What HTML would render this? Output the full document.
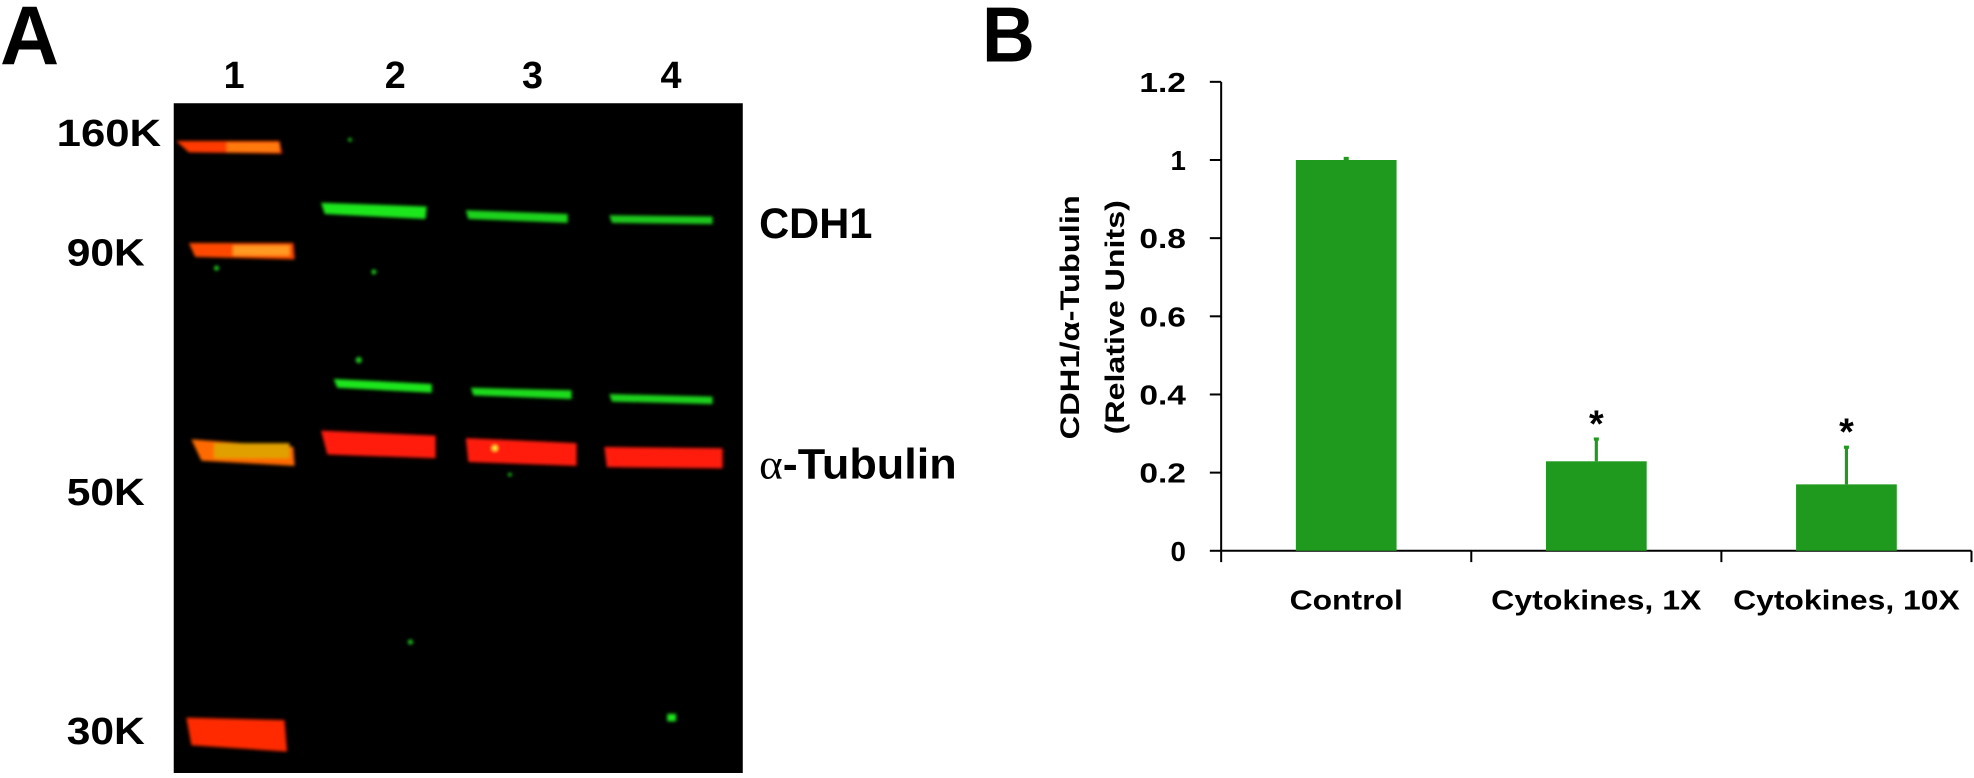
<!DOCTYPE html>
<html><head><meta charset="utf-8"><style>
html,body{margin:0;padding:0;background:#fff;}
body{width:1974px;height:773px;position:relative;overflow:hidden;font-family:"Liberation Sans",sans-serif;}
</style></head><body>
<svg width="1974" height="773" viewBox="0 0 1568 614" xmlns="http://www.w3.org/2000/svg">
<defs>
<filter id="blur" x="-20%" y="-50%" width="140%" height="200%"><feGaussianBlur stdDeviation="1.2"/></filter>
</defs>
<g font-family="Liberation Sans, sans-serif" font-weight="bold">
<text x="0" y="51" font-size="66" textLength="47" lengthAdjust="spacingAndGlyphs">A</text>
<g font-size="30" text-anchor="middle">
<text x="186" y="70">1</text><text x="314" y="70">2</text><text x="423" y="70">3</text><text x="533" y="70">4</text>
</g>
<g font-size="30">
<text x="45" y="116" textLength="83" lengthAdjust="spacingAndGlyphs">160K</text>
<text x="53" y="211" textLength="62" lengthAdjust="spacingAndGlyphs">90K</text>
<text x="53" y="401" textLength="62" lengthAdjust="spacingAndGlyphs">50K</text>
<text x="53" y="591" textLength="62" lengthAdjust="spacingAndGlyphs">30K</text>
</g>
<rect x="138" y="82" width="452" height="532" fill="#000"/>
<g filter="url(#blur)">
<path d="M140 112 L222 112 L224 122 L150 121 Z" fill="#ff3a00"/>
<rect x="180" y="113" width="42" height="8" fill="#ff7a10"/>
<path d="M150 193 L233 193 L234 206 L155 204 Z" fill="#ff4a00"/>
<rect x="185" y="195" width="45" height="8" fill="#ff9a20"/>
<path d="M152 349 L233 355 L234 370 L160 366 Z" fill="#ff6a00"/>
<rect x="170" y="352" width="60" height="12" fill="#e0a000"/>
<path d="M148 570 L226 572 L228 597 L152 592 Z" fill="#ff2a00"/>
<path d="M255 161 L339 164 L338 174 L258 170 Z" fill="#1ee61e"/>
<path d="M370 167 L451 170 L451 177 L372 174 Z" fill="#1ed21e"/>
<path d="M484 171 L566 172 L566 178 L486 177 Z" fill="#1ec81e"/>
<path d="M265 301 L343 305 L343 312 L268 308 Z" fill="#1ee61e"/>
<path d="M374 308 L454 310 L454 317 L376 314 Z" fill="#1edc1e"/>
<path d="M484 313 L566 315 L566 321 L486 319 Z" fill="#1ed21e"/>
<path d="M255 342 L346 346 L346 364 L260 361 Z" fill="#ff1a10"/>
<path d="M370 348 L458 352 L458 370 L372 367 Z" fill="#ff1a10"/>
<path d="M480 355 L574 356 L574 372 L482 371 Z" fill="#ff1a10"/>
<rect x="530" y="567" width="7" height="6" fill="#1ee61e"/>
<circle cx="278" cy="111" r="1.5" fill="#1ec81e"/><circle cx="285" cy="286" r="2.5" fill="#1ec81e"/>
<circle cx="172" cy="213" r="2" fill="#1ec81e"/><circle cx="297" cy="216" r="2" fill="#1ec81e"/>
<circle cx="326" cy="510" r="2" fill="#1ec81e"/><circle cx="405" cy="377" r="1.5" fill="#1ec81e"/>
<circle cx="393" cy="356" r="2" fill="#ffff40"/>
</g>
<text x="603" y="189" font-size="34" textLength="90" lengthAdjust="spacingAndGlyphs">CDH1</text>
<text x="603" y="380" font-size="34" textLength="157" lengthAdjust="spacingAndGlyphs"><tspan font-weight="normal" font-family="Liberation Serif, serif">α</tspan>-Tubulin</text>
</g>
<text x="780" y="49" font-size="62" font-weight="bold" textLength="42" lengthAdjust="spacingAndGlyphs">B</text>
<g id="chart"></g>
</svg>
<script>
const categories = ["Control","Cytokines, 1X","Cytokines, 10X"];
const values = [1.0, 0.229, 0.17];
const errors = [0.004, 0.057, 0.095];
const significant = [false, true, true];
const yTicks = [0,0.2,0.4,0.6,0.8,1,1.2];
const yTickLabels = ["0","0.2","0.4","0.6","0.8","1","1.2"];
const catLabelWidths = [90,167,180];

const NS="http://www.w3.org/2000/svg";
const g=document.getElementById('chart');
const x0=970,x1=1566,yTop=65,yBot=437.5,yMax=1.2;
const yS=v=>yBot-(v/yMax)*(yBot-yTop);
const band=(x1-x0)/categories.length;
const xC=i=>x0+band*(i+0.5);
function mk(tag,attrs,parent){const e=document.createElementNS(NS,tag);for(const k in attrs)e.setAttribute(k,attrs[k]);(parent||g).appendChild(e);return e;}
const yAxis=mk('line',{x1:x0,y1:yTop,x2:x0,y2:yBot,stroke:'#000','stroke-width':1.6});


const xAxis=mk('line',{x1:x0,y1:yBot,x2:x1,y2:yBot,stroke:'#000','stroke-width':1.6});


yTicks.forEach((t,i)=>{
  const tk=mk('line',{x1:x0-9,y1:yS(t),x2:x0,y2:yS(t),stroke:'#000','stroke-width':1.6});
  
  
  const tl=mk('text',{x:x0-28,y:yS(t)+8,'text-anchor':'end','font-size':22,'font-weight':'bold','font-family':'Liberation Sans, sans-serif'});
  tl.textContent=yTickLabels[i];
  if(yTickLabels[i].length>1){tl.setAttribute('textLength',37);tl.setAttribute('lengthAdjust','spacingAndGlyphs');}
  
  
});
for(let i=0;i<=categories.length;i++){
  const xt=x0+band*i;
  const tk=mk('line',{x1:xt,y1:yBot,x2:xt,y2:yBot+9,stroke:'#000','stroke-width':1.6});
  
  
}
const bw=80;
categories.forEach((c,i)=>{
  const cx=xC(i);
  const b=mk('rect',{x:cx-bw/2,y:yS(values[i]),width:bw,height:yBot-yS(values[i]),fill:'#1f9a1f'});
  
  
  const e=mk('line',{x1:cx,y1:yS(values[i]),x2:cx,y2:yS(values[i]+errors[i]),stroke:'#1f9a1f','stroke-width':2.5});
  
  
  const ec=mk('line',{x1:cx-2,y1:yS(values[i]+errors[i]),x2:cx+2,y2:yS(values[i]+errors[i]),stroke:'#1f9a1f','stroke-width':2.5});
  
  
  if(significant[i]){
    const s=mk('text',{x:cx,y:yS(values[i]+errors[i])-2,'text-anchor':'middle','font-size':30,'font-weight':'bold','font-family':'Liberation Sans, sans-serif'});
    s.textContent='*';
    
    
  }
  const l=mk('text',{x:cx,y:484,'text-anchor':'middle','font-size':22,'font-weight':'bold','font-family':'Liberation Sans, sans-serif',textLength:catLabelWidths[i],lengthAdjust:'spacingAndGlyphs'});
  l.textContent=c;
  
  
});
const yt1=mk('text',{transform:'translate(857,252) rotate(-90)','text-anchor':'middle','font-size':21,'font-weight':'bold','font-family':'Liberation Sans, sans-serif',textLength:194,lengthAdjust:'spacingAndGlyphs'});
yt1.textContent='CDH1/α-Tubulin';


const yt2=mk('text',{transform:'translate(893,252) rotate(-90)','text-anchor':'middle','font-size':21,'font-weight':'bold','font-family':'Liberation Sans, sans-serif',textLength:186,lengthAdjust:'spacingAndGlyphs'});
yt2.textContent='(Relative Units)';


</script>
</body></html>
